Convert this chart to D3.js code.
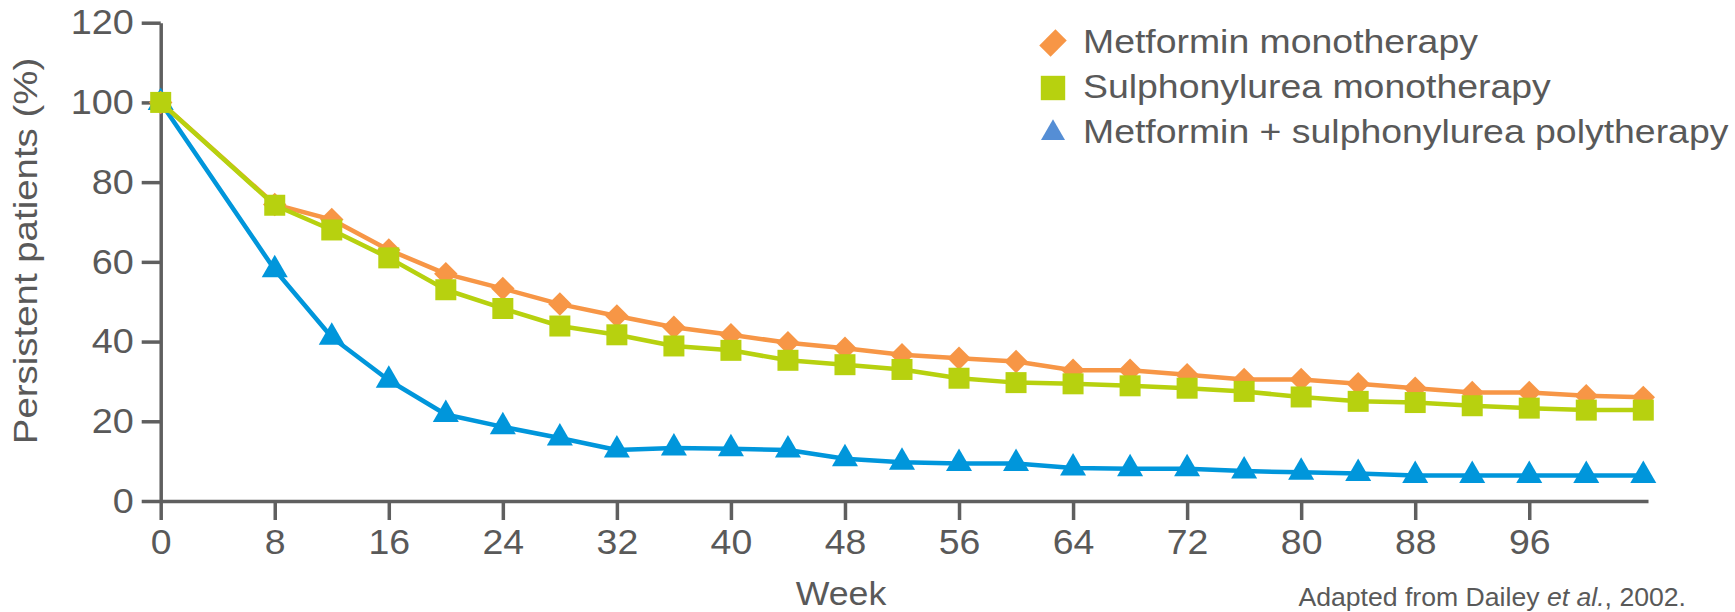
<!DOCTYPE html>
<html>
<head>
<meta charset="utf-8">
<script src="https://cdn.jsdelivr.net/npm/d3@7.9.0/dist/d3.min.js"></script>
<style>
  html, body { margin: 0; padding: 0; background: #fff; }
  svg text { font-family: "Liberation Sans", Arial, sans-serif; fill: #595959; }
</style>
</head>
<body>
<svg id="chart" width="1735" height="612"></svg>
<script>
// --- DATA ---
const weeks = [0, 8, 12, 16, 20, 24, 28, 32, 36, 40, 44, 48, 52, 56, 60, 64, 68, 72, 76, 80, 84, 88, 92, 96, 100, 104];
const metforminMono = [100, 74.4, 70.6, 63, 57, 53.3, 49.4, 46.4, 43.6, 41.7, 39.7, 38.3, 36.7, 35.8, 35, 32.8, 32.8, 31.7, 30.5, 30.5, 29.4, 28.3, 27.2, 27.2, 26.4, 26];
const sulphonylureaMono = [100, 74.2, 68, 61, 53, 48.3, 43.9, 41.7, 38.9, 37.8, 35.3, 34.2, 33, 30.8, 29.7, 29.4, 28.9, 28.3, 27.5, 26.1, 25, 24.7, 23.9, 23.3, 22.8, 22.8];
const polytherapy = [100, 58, 41.1, 30.3, 21.7, 18.6, 15.8, 12.8, 13.3, 13.1, 12.8, 10.6, 9.7, 9.4, 9.4, 8.3, 8.1, 8.1, 7.5, 7.2, 6.9, 6.4, 6.4, 6.4, 6.4, 6.4];
const xTicks = [0, 8, 16, 24, 32, 40, 48, 56, 64, 72, 80, 88, 96];
const yTicks = [0, 20, 40, 60, 80, 100, 120];
const seriesNames = ["Metformin monotherapy", "Sulphonylurea monotherapy", "Metformin + sulphonylurea polytherapy"];

const svg = d3.select("#chart");
const axisColor = "#5f5f5f";

const x = d3.scaleLinear().domain([0, 104.33]).range([160.7, 1648]);
const y = d3.scaleLinear().domain([0, 120]).range([501, 22.7]);

// series: drawn blue first, then orange, then green on top
const series = [
  { name: seriesNames[2], values: polytherapy, color: "#0096db", legendColor: "#558ed5", shape: "triangle" },
  { name: seriesNames[0], values: metforminMono, color: "#f79646", legendColor: "#f79646", shape: "diamond" },
  { name: seriesNames[1], values: sulphonylureaMono, color: "#b7d10f", legendColor: "#b7d10f", shape: "square" }
];

function markerPath(shape, scale = 1) {
  if (shape === "triangle") return d3.symbol(d3.symbolTriangle, 293 * scale)();
  if (shape === "square") return d3.symbol(d3.symbolSquare, 441 * scale)();
  return d3.symbol(d3.symbolSquare, 275 * scale)();
}

// --- AXES ---
const xAxis = svg.append("g")
  .attr("transform", `translate(0,${y(0)})`)
  .call(d3.axisBottom(x).tickValues(xTicks).tickSize(19).tickSizeOuter(0).tickPadding(9));
const yAxis = svg.append("g")
  .attr("transform", `translate(${x(0)},0)`)
  .call(d3.axisLeft(y).tickValues(yTicks).tickSize(19).tickSizeOuter(0).tickPadding(8));

[xAxis, yAxis].forEach(g => {
  g.selectAll("path, line").attr("stroke", axisColor).attr("stroke-width", 3.5);
  g.selectAll("text").attr("font-size", 35).attr("fill", "#595959")
    .style("font-family", '"Liberation Sans", Arial, sans-serif');
});
// the source glyphs are a little wider than Arial
xAxis.selectAll("text").attr("transform", "scale(1.07,1)");
yAxis.selectAll("text").attr("x", 0).attr("transform", "translate(-27,0) scale(1.08,1)");

// --- LINES + MARKERS ---
const line = d3.line().x((d, i) => x(weeks[i])).y(d => y(d));

series.forEach(s => {
  svg.append("path")
    .attr("d", line(s.values))
    .attr("fill", "none")
    .attr("stroke", s.color)
    .attr("stroke-width", 4.5)
    .attr("stroke-linejoin", "round");

  svg.append("g").selectAll("path")
    .data(s.values)
    .join("path")
    .attr("d", markerPath(s.shape))
    .attr("fill", s.color)
    .attr("transform", (d, i) => `translate(${x(weeks[i])},${y(d)})` + (s.shape === "diamond" ? " rotate(45)" : ""));
});

// --- LEGEND ---
const legendOrder = [series[1], series[2], series[0]];
const legend = svg.append("g");
legendOrder.forEach((s, i) => {
  const cy = 43 + i * 45;
  legend.append("path")
    .attr("d", markerPath(s.shape, s.shape === "triangle" ? 0.85 : s.shape === "square" ? 1.35 : 1.9))
    .attr("fill", s.legendColor)
    .attr("transform", `translate(1053,${cy})` + (s.shape === "diamond" ? " rotate(45) scale(0.7,1)" : ""));
  legend.append("text")
    .attr("transform", `translate(1083,${cy + 10}) scale(1.1,1)`)
    .attr("font-size", 34)
    .text(s.name);
});

// --- AXIS TITLES ---
svg.append("text")
  .attr("transform", "translate(841,605) scale(1.05,1)")
  .attr("text-anchor", "middle")
  .attr("font-size", 34)
  .text("Week");

svg.append("text")
  .attr("transform", "translate(37,251) rotate(-90) scale(1.13,1)")
  .attr("text-anchor", "middle")
  .attr("font-size", 34)
  .text("Persistent patients (%)");

// --- SOURCE NOTE ---
const note = svg.append("text")
  .attr("transform", "translate(1686,606) scale(1.065,1)")
  .attr("text-anchor", "end")
  .attr("font-size", 25);
note.append("tspan").text("Adapted from Dailey ");
note.append("tspan").attr("font-style", "italic").text("et al.");
note.append("tspan").text(", 2002.");
</script>
</body>
</html>
